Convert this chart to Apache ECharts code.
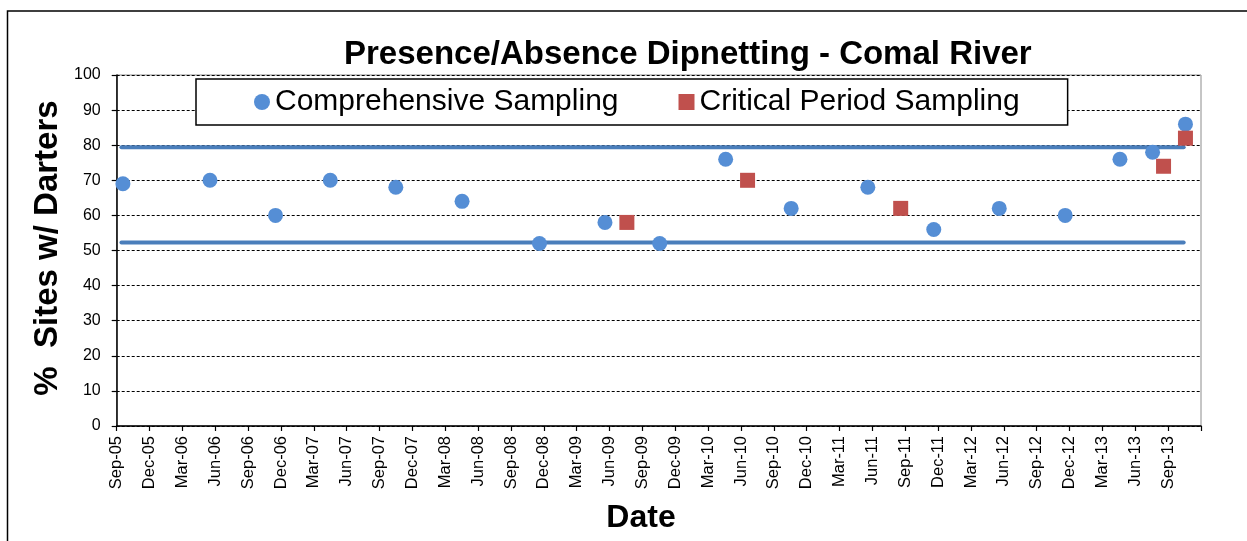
<!DOCTYPE html>
<html>
<head>
<meta charset="utf-8">
<script src="https://cdn.jsdelivr.net/npm/echarts@6/dist/echarts.min.js"></script>
<style>
html,body{margin:0;padding:0;background:#fff;}
#chart{width:1247px;height:541px;}
</style>
</head>
<body>
<div id="chart"></div>
<script>
// ---- Data ----
const titleText = 'Presence/Absence Dipnetting - Comal River';
const yAxisTitle = '%  Sites w/ Darters';
const xAxisTitle = 'Date';
const seriesNames = ['Comprehensive Sampling', 'Critical Period Sampling'];

// x tick labels every 3 months starting Sep-05 (last tick Dec-13 unlabeled)
const tickLabels = ['Sep-05','Dec-05','Mar-06','Jun-06','Sep-06','Dec-06','Mar-07','Jun-07',
  'Sep-07','Dec-07','Mar-08','Jun-08','Sep-08','Dec-08','Mar-09','Jun-09','Sep-09','Dec-09',
  'Mar-10','Jun-10','Sep-10','Dec-10','Mar-11','Jun-11','Sep-11','Dec-11','Mar-12','Jun-12',
  'Sep-12','Dec-12','Mar-13','Jun-13','Sep-13',''];

const comprehensiveDates = ['2005-09-18','2006-05-17','2006-11-16','2007-04-16','2007-10-16',
  '2008-04-17','2008-11-19','2009-05-19','2009-10-19','2010-04-19','2010-10-19','2011-05-19',
  '2011-11-19','2012-05-19','2012-11-19','2013-04-19','2013-07-19','2013-10-19'];
const comprehensiveValues = [69, 70, 60, 70, 68, 64, 52, 58, 52, 76, 62, 68, 56, 62, 60, 76, 78, 86];

const criticalDates = ['2009-07-19','2010-06-19','2011-08-19','2013-08-19','2013-10-19'];
const criticalValues = [58, 70, 62, 74, 82];

const upperLimit = 79.4;
const lowerLimit = 52.3;
const limitStart = '2005-09-14';
const limitEnd = '2013-10-14';

// ---- helpers: convert date to months since Sep 2005 ----
function monthIndex(d) {
  const p = d.split('-').map(Number);
  const dim = new Date(p[0], p[1], 0).getDate();
  return (p[0] - 2005) * 12 + (p[1] - 9) + (p[2] - 1) / dim;
}
const font = '"Liberation Sans", Arial, sans-serif';

const compData = comprehensiveDates.map((d, i) => [monthIndex(d), comprehensiveValues[i]]);
const critData = criticalDates.map((d, i) => [monthIndex(d), criticalValues[i]]);
const upperData = [[monthIndex(limitStart), upperLimit], [monthIndex(limitEnd), upperLimit]];
const lowerData = [[monthIndex(limitStart), lowerLimit], [monthIndex(limitEnd), lowerLimit]];

const chart = echarts.init(document.getElementById('chart'), null, {renderer: 'canvas'});
const option = {
  backgroundColor: '#fff',
  animation: false,
  title: {
    text: titleText,
    left: 344, top: 38, padding: 0,
    textStyle: {fontFamily: font, fontSize: 33, fontWeight: 'bold', color: '#000'}
  },
  legend: {
    data: [
      {name: seriesNames[0], icon: 'circle'},
      {name: seriesNames[1], icon: 'rect'}
    ],
    left: 196, top: 79,
    padding: [8, 48, 8, 58],
    itemGap: 60,
    itemWidth: 16, itemHeight: 16,
    backgroundColor: '#fff',
    borderColor: '#000', borderWidth: 1.5, borderRadius: 0,
    textStyle: {fontFamily: font, fontSize: 30, color: '#000'},
    z: 10
  },
  grid: {
    left: 116.7, right: 46, top: 75, bottom: 115,
    show: true, borderColor: '#8c8c8c', borderWidth: 1, backgroundColor: 'transparent'
  },
  xAxis: {
    type: 'value', min: 0, max: 99, interval: 3,
    axisLine: {lineStyle: {color: '#000', width: 1.5}},
    axisTick: {show: true, inside: false, length: 5, lineStyle: {color: '#000', width: 1.2}},
    axisLabel: {
      rotate: 90, margin: 10, fontFamily: font, fontSize: 16.5, color: '#000',
      showMaxLabel: true, showMinLabel: true,
      formatter: v => tickLabels[Math.round(v / 3)] || ''
    },
    splitLine: {show: false}
  },
  yAxis: {
    type: 'value', min: 0, max: 100, interval: 10,
    axisLine: {show: true, lineStyle: {color: '#000', width: 1.5}},
    axisTick: {show: true, inside: false, length: 5, lineStyle: {color: '#000', width: 1.2}},
    axisLabel: {margin: 16, fontFamily: font, fontSize: 16, color: '#000'},
    splitLine: {show: true, lineStyle: {color: '#000', width: 1, type: [3, 2]}}
  },
  graphic: [
    {type: 'rect', shape: {x: 7.5, y: 11, width: 1300, height: 600},
     style: {fill: 'none', stroke: '#000', lineWidth: 1.5}, silent: true, z: 0},
    {type: 'text', x: 48, y: 248, rotation: Math.PI / 2,
     style: {text: yAxisTitle, font: 'bold 33px ' + font, fill: '#000', textAlign: 'center', textVerticalAlign: 'middle'}},
    {type: 'text', x: 641, y: 518,
     style: {text: xAxisTitle, font: 'bold 32px ' + font, fill: '#000', textAlign: 'center', textVerticalAlign: 'middle'}}
  ],
  series: [
    {name: 'Upper', type: 'line', data: upperData, symbol: 'none', z: 2,
     lineStyle: {color: '#4a7ebb', width: 4, cap: 'round'}, silent: true},
    {name: 'Lower', type: 'line', data: lowerData, symbol: 'none', z: 2,
     lineStyle: {color: '#4a7ebb', width: 4, cap: 'round'}, silent: true},
    {name: seriesNames[0], type: 'scatter', data: compData, symbol: 'circle', symbolSize: 15, z: 3,
     itemStyle: {color: '#558ed5', opacity: 1}},
    {name: seriesNames[1], type: 'scatter', data: critData, symbol: 'rect', symbolSize: 15, z: 4,
     itemStyle: {color: '#c0504d', opacity: 1}}
  ]
};
chart.setOption(option);
</script>
</body>
</html>
